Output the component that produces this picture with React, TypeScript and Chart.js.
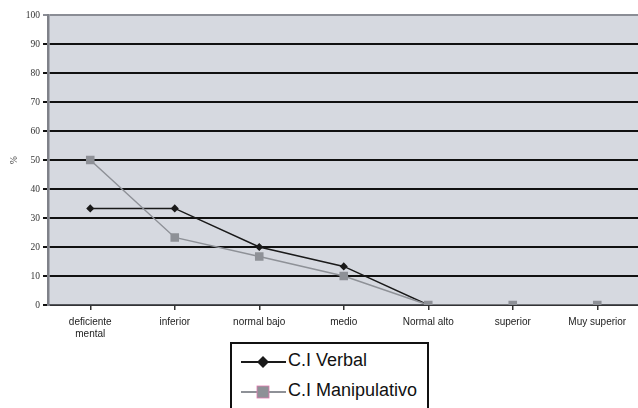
import React, { useEffect, useRef } from "react";
import { Chart, registerables } from "chart.js";

Chart.register(...registerables);

const categories: (string | string[])[] = [
  ["deficiente", "mental"],
  "inferior",
  "normal bajo",
  "medio",
  "Normal alto",
  "superior",
  "Muy superior",
];
const verbal = [33.3, 33.3, 20, 13.3, 0, 0, 0];
const manipulativo = [50, 23.3, 16.7, 10, 0, 0, 0];
const seriesNames = ["C.I Verbal", "C.I Manipulativo"];

const bgPlugin = {
  id: "plotBg",
  beforeDraw(chart: any) {
    const { ctx, chartArea } = chart;
    ctx.save();
    ctx.fillStyle = "#d6d9e0";
    ctx.fillRect(chartArea.left, chartArea.top, chartArea.right - chartArea.left, chartArea.bottom - chartArea.top);
    ctx.restore();
  },
};

export default function App() {
  const ref = useRef<HTMLCanvasElement>(null);
  useEffect(() => {
    if (!ref.current) return;
    const chart = new Chart(ref.current, {
      type: "line",
      data: {
        labels: categories,
        datasets: [
          {
            label: seriesNames[1],
            data: manipulativo,
            borderColor: "#8e9197",
            backgroundColor: "#8e9197",
            borderWidth: 1.5,
            pointStyle: "rect",
            pointRadius: 5,
            pointBorderColor: "#8e9197",
            pointBackgroundColor: "#8e9197",
            tension: 0,
          },
          {
            label: seriesNames[0],
            data: verbal,
            borderColor: "#1a1a1a",
            backgroundColor: "#1a1a1a",
            borderWidth: 1.5,
            pointStyle: "rectRot",
            pointRadius: 3,
            pointBorderColor: "#1a1a1a",
            pointBackgroundColor: "#1a1a1a",
            tension: 0,
          },
        ],
      },
      options: {
        responsive: false,
        animation: false,
        layout: { padding: { top: 15, right: 2, left: 0, bottom: 0 } },
        plugins: { legend: { display: false }, tooltip: { enabled: false } },
        scales: {
          x: {
            offset: true,
            afterFit(scale: any) {
              scale.height = 40;
            },
            grid: {
              drawOnChartArea: false,
              drawTicks: true,
              tickLength: 5,
              color: "#333",
              lineWidth: 1.5,
            },
            border: { color: "#55575c", width: 1.5 },
            ticks: {
              color: "#222",
              font: { family: "Liberation Sans", size: 10 },
              padding: 6,
              maxRotation: 0,
              autoSkip: false,
            },
          },
          y: {
            min: 0,
            max: 100,
            afterFit(scale: any) {
              scale.width = 48;
            },
            ticks: {
              stepSize: 10,
              color: "#333",
              font: { family: "Liberation Serif", size: 9.5 },
              padding: 3,
            },
            grid: {
              color: (c: any) => (c.tick && c.tick.value === 100 ? "#8a8d95" : "#111"),
              lineWidth: 2,
              tickLength: 5,
            },
            border: { color: "#7f8189", width: 2.5 },
            title: {
              display: true,
              text: "%",
              color: "#333",
              font: { family: "Liberation Serif", size: 9.5 },
              padding: { top: 9, bottom: 0 },
            },
          },
        },
      },
      plugins: [bgPlugin],
    });
    return () => chart.destroy();
  }, []);

  const textStyle: React.CSSProperties = {
    position: "absolute",
    left: 56,
    fontFamily: "Liberation Sans",
    fontSize: 18,
    color: "#111",
    whiteSpace: "nowrap",
  };

  return (
    <div style={{ position: "fixed", left: 0, top: 0, width: 638, height: 408, overflow: "hidden", background: "#fff" }}>
      <canvas ref={ref} width={646} height={345} style={{ display: "block", width: 646, height: 345 }} />
      <div
        style={{
          position: "absolute",
          left: 230,
          top: 342,
          width: 195,
          height: 90,
          border: "2px solid #111",
          background: "#fff",
        }}
      >
        <svg width={60} height={80} style={{ position: "absolute", left: 7, top: 0 }}>
          <line x1={2} y1={18} x2={47} y2={18} stroke="#1a1a1a" strokeWidth={2} />
          <polygon points="24,12 30,18 24,24 18,18" fill="#1a1a1a" />
          <line x1={2} y1={48} x2={47} y2={48} stroke="#8e9197" strokeWidth={2} />
          <rect x={18} y={42} width={12} height={12} fill="#8e9197" stroke="#e07ab0" strokeWidth={0.8} />
        </svg>
        <div style={{ ...textStyle, top: 6 }}>{seriesNames[0]}</div>
        <div style={{ ...textStyle, top: 36 }}>{seriesNames[1]}</div>
      </div>
    </div>
  );
}
